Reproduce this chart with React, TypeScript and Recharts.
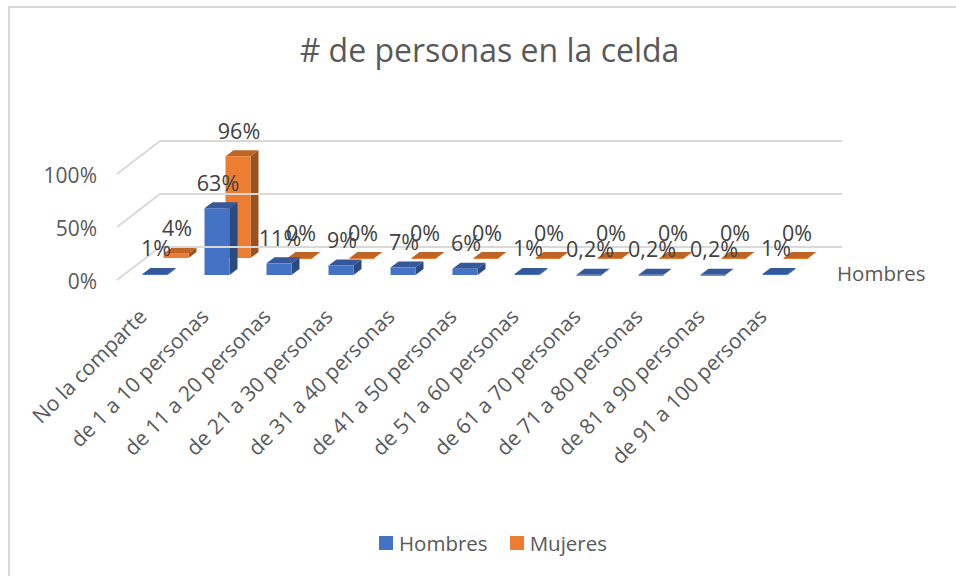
import React from "react";
import { BarChart, Bar, XAxis, YAxis, ReferenceLine, Legend, LabelList } from "recharts";

const categories = ["No la comparte","de 1 a 10 personas","de 11 a 20 personas","de 21 a 30 personas","de 31 a 40 personas","de 41 a 50 personas","de 51 a 60 personas","de 61 a 70 personas","de 71 a 80 personas","de 81 a 90 personas","de 91 a 100 personas"];
const hombres = [0.01,0.63,0.11,0.09,0.07,0.06,0.01,0.002,0.002,0.002,0.01];
const mujeres = [0.04,0.96,0,0,0,0,0,0,0,0,0];
const yTicks = [0,0.5,1];
const data = categories.map((name,i)=>({name,Hombres:hombres[i],Mujeres:mujeres[i]}));

const FONT = "'Open Sans', sans-serif";
const DEPTH_X = 43, DEPTH_Y = 33;
const BAR_W = 25, BD_X = 8, BD_Y = 6;
const H_OFF = { dx: 6.5, dy: -5 };
const M_OFF = { dx: 27.5, dy: -22 };

const fmt = (v:number)=> String(Math.round(v*1000)/10).replace(".",",")+"%";

const bar3d = (off:{dx:number,dy:number}, front:string, top:string, side:string) => (p:any) => {
  const x = p.x+off.dx, y = p.y+off.dy, w = p.width, h = Math.max(p.height,0);
  const b = y+h;
  return <g>
    <polygon points={`${x},${y} ${x+BD_X},${y-BD_Y} ${x+w+BD_X},${y-BD_Y} ${x+w},${y}`} fill={top}/>
    <polygon points={`${x+w},${y} ${x+w+BD_X},${y-BD_Y} ${x+w+BD_X},${b-BD_Y} ${x+w},${b}`} fill={side}/>
    <rect x={x} y={y} width={w} height={Math.max(h,1)} fill={front}/>
  </g>;
};

const label3d = (off:{dx:number,dy:number}) => (p:any) => (
  <text x={p.x+off.dx+p.width/2+1} y={p.y+off.dy-26} textAnchor="middle" dominantBaseline="central" fontFamily={FONT} fontSize={21.5} fill="#404040">{fmt(p.value)}</text>
);

const gridShape = (showDepthName:boolean) => (p:any) => {
  const {x1,y1,x2} = p;
  return <g>
    <polyline points={`${x1},${y1} ${x1+DEPTH_X},${y1-DEPTH_Y} ${x2+DEPTH_X},${y1-DEPTH_Y}`} fill="none" stroke="#d9d9d9" strokeWidth={2}/>
    {showDepthName && <text x={x2+38} y={y1-7} dominantBaseline="central" fontFamily={FONT} fontSize={20.5} fill="#595959">Hombres</text>}
  </g>;
};

const XTick = (p:any) => (
  <text x={p.x} y={p.y+30} textAnchor="end" fontFamily={FONT} fontSize={21} fill="#595959" transform={`rotate(-45 ${p.x} ${p.y+30})`}>{p.payload.value}</text>
);

const LegendContent = (p:any) => (
  <div style={{position:"absolute",left:379,top:-1,display:"flex",fontFamily:FONT,fontSize:20.5,color:"#595959",lineHeight:"24px"}}>
    {p.payload.map((e:any)=>(
      <div key={e.value} style={{display:"flex",alignItems:"center",marginRight:22,whiteSpace:"nowrap"}}>
        <span style={{display:"inline-block",width:14,height:14,background:e.color,marginRight:6}}/>{e.value}
      </div>
    ))}
  </div>
);

export default function App(){
  return <div style={{position:"fixed",left:0,top:0,width:956,height:576,background:"#fff",overflow:"hidden"}}>
    <div style={{position:"absolute",left:8,top:6,width:950,height:580,border:"2px solid #d9d9d9",boxSizing:"border-box"}}/>
    <div style={{position:"absolute",left:0,top:28,width:979,textAlign:"center",fontFamily:FONT,fontSize:32,color:"#595959",lineHeight:"44px"}}># de personas en la celda</div>
    <BarChart width={956} height={576} data={data} margin={{top:174,right:157,bottom:0,left:0}} barSize={BAR_W} barGap={-BAR_W} style={{position:"absolute",left:0,top:0}}>
      <XAxis dataKey="name" interval={0} axisLine={false} tickLine={false} height={272} tick={XTick}/>
      <YAxis domain={[0,1]} ticks={yTicks} width={117} axisLine={false} tickLine={false} tickFormatter={(v:number)=>`${v*100}%`} tick={{fontFamily:FONT,fontSize:21,fill:"#595959",dy:2}} tickMargin={14}/>
      {yTicks.map((t,i)=><ReferenceLine key={t} y={t} shape={gridShape(i===0)}/>)}
      <Bar dataKey="Mujeres" fill="#ED7D31" isAnimationActive={false} shape={bar3d(M_OFF,"#ED7D31","#BE6426","#9A5220")}>
        <LabelList dataKey="Mujeres" content={label3d(M_OFF)}/>
      </Bar>
      <Bar dataKey="Hombres" fill="#4472C4" isAnimationActive={false} shape={bar3d(H_OFF,"#4472C4","#34589A","#2A4A80")}>
        <LabelList dataKey="Hombres" content={label3d(H_OFF)}/>
      </Bar>
      <Legend content={LegendContent} wrapperStyle={{top:532,left:0,width:956,height:24}}/>
    </BarChart>
  </div>;
}
